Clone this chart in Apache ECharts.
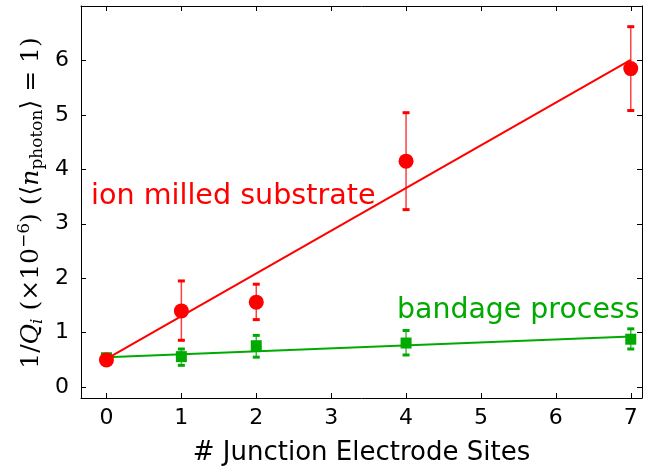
<!DOCTYPE html>
<html>
<head>
<meta charset="utf-8">
<script src="https://cdn.jsdelivr.net/npm/echarts@6/dist/echarts.min.js"></script>
<style>html,body{margin:0;padding:0;background:#fff}#c{width:645px;height:471px}</style>
</head>
<body>
<div id="c"></div>
<script>
const xVals = [0, 1, 2, 4, 7];
const ionY  = [0.50, 1.40, 1.56, 4.15, 5.85];
const ionLo = [0.50, 0.86, 1.24, 3.26, 5.08];
const ionHi = [0.50, 1.95, 1.89, 5.04, 6.62];
const bandY  = [0.54, 0.56, 0.76, 0.81, 0.88];
const bandLo = [0.54, 0.40, 0.55, 0.59, 0.70];
const bandHi = [0.54, 0.70, 0.95, 1.04, 1.07];
const fitX = [0, 7];
const ionFit = [0.52, 6.01];
const bandFit = [0.55, 0.93];
const xTicks = [0, 1, 2, 3, 4, 5, 6, 7];
const yTicks = [0, 1, 2, 3, 4, 5, 6];

const RED = '#ff0000', GREEN = '#00aa00';
const chart = echarts.init(document.getElementById('c'), null, {renderer: 'canvas'});

function errSeries(lo, hi, color, z) {
  return {
    type: 'custom', z: z, silent: true,
    data: xVals.map((x, i) => [x, lo[i], hi[i]]),
    renderItem: function (params, api) {
      const x = api.value(0);
      const p1 = api.coord([x, api.value(1)]);
      const p2 = api.coord([x, api.value(2)]);
      if (Math.abs(p1[1] - p2[1]) < 0.5) return {type: 'group', children: []};
      const w = 3.5;
      return {type: 'group', children: [
        {type: 'line', shape: {x1: p1[0], y1: p1[1], x2: p2[0], y2: p2[1]}, style: {stroke: color, lineWidth: 1.5, opacity: 0.75}},
        {type: 'line', shape: {x1: p1[0] - w, y1: p1[1], x2: p1[0] + w, y2: p1[1]}, style: {stroke: color, lineWidth: 3}},
        {type: 'line', shape: {x1: p2[0] - w, y1: p2[1], x2: p2[0] + w, y2: p2[1]}, style: {stroke: color, lineWidth: 3}}
      ]};
    }
  };
}

const axisCommon = {
  axisLine: {show: true, onZero: false, lineStyle: {color: '#000', width: 1}},
  axisTick: {show: true, inside: true, length: 5, lineStyle: {color: '#000', width: 1}},
  splitLine: {show: false}
};

chart.setOption({
  animation: false,
  backgroundColor: '#fff',
  grid: {left: 81, right: 3, top: 6, bottom: 73, containLabel: false, outerBoundsMode: 'none'},
  xAxis: [
    Object.assign({}, axisCommon, {
      type: 'value', min: -0.34, max: 7.15, position: 'bottom',
      axisTick: Object.assign({}, axisCommon.axisTick, {customValues: xTicks}),
      axisLabel: {customValues: xTicks, fontSize: 22, color: '#000', fontFamily: 'DejaVu Sans', margin: 9},
      name: '# Junction Electrode Sites', nameLocation: 'middle', nameGap: 42,
      nameTextStyle: {fontSize: 26, color: '#000', fontFamily: 'DejaVu Sans'}
    }),
    Object.assign({}, axisCommon, {
      type: 'value', min: -0.34, max: 7.15, position: 'top',
      axisTick: Object.assign({}, axisCommon.axisTick, {customValues: xTicks}),
      axisLabel: {show: false}
    })
  ],
  yAxis: [
    Object.assign({}, axisCommon, {
      type: 'value', min: -0.2, max: 7, position: 'left',
      axisTick: Object.assign({}, axisCommon.axisTick, {customValues: yTicks}),
      axisLabel: {customValues: yTicks, fontSize: 22, color: '#000', fontFamily: 'DejaVu Sans', margin: 12}
    }),
    Object.assign({}, axisCommon, {
      type: 'value', min: -0.2, max: 7, position: 'right',
      axisTick: Object.assign({}, axisCommon.axisTick, {customValues: yTicks}),
      axisLabel: {show: false}
    })
  ],
  graphic: [
    {type: 'text', left: 91, top: 182, z: 100, style: {text: 'ion milled substrate', fill: RED, font: '28.6px "DejaVu Sans"'}},
    {type: 'text', left: 397, top: 297, z: 100, style: {text: 'bandage process', fill: GREEN, font: '28.4px "DejaVu Sans"'}},
    {type: 'text', x: 31, y: 203, rotation: Math.PI / 2, z: 100,
     style: {
       text: '{r|1/}{i|Q}{si|i}{r| (×10}{sup|−6}{r|) (⟨}{i|n}{s|photon}{r|⟩ = 1)}',
       align: 'center', verticalAlign: 'middle',
       rich: {
         r: {fontSize: 25, fontFamily: 'DejaVu Serif', fill: '#000', height: 34},
         i: {fontSize: 25, fontFamily: 'DejaVu Serif', fontStyle: 'italic', fill: '#000', height: 34},
         si: {fontSize: 17, fontFamily: 'DejaVu Serif', fontStyle: 'italic', fill: '#000', height: 34, padding: [13, 0, 0, 0]},
         s: {fontSize: 17, fontFamily: 'DejaVu Serif', fill: '#000', height: 34, padding: [13, 0, 0, 0]},
         sup: {fontSize: 17, fontFamily: 'DejaVu Serif', fill: '#000', height: 34, padding: [0, 0, 13, 0]}
       }
     }}
  ],
  series: [
    {type: 'line', data: fitX.map((x, i) => [x, ionFit[i]]), showSymbol: false, symbol: 'none', z: 3,
     lineStyle: {color: RED, width: 2}, silent: true},
    {type: 'line', data: fitX.map((x, i) => [x, bandFit[i]]), showSymbol: false, symbol: 'none', z: 2,
     lineStyle: {color: GREEN, width: 2}, silent: true},
    errSeries(bandLo, bandHi, GREEN, 4),
    {type: 'scatter', data: xVals.map((x, i) => [x, bandY[i]]), symbol: 'rect', symbolSize: 11, z: 5,
     itemStyle: {color: GREEN, opacity: 1}},
    errSeries(ionLo, ionHi, RED, 6),
    {type: 'scatter', data: xVals.map((x, i) => [x, ionY[i]]), symbol: 'circle', symbolSize: 15, z: 7,
     itemStyle: {color: RED, opacity: 1}}
  ]
});
</script>
</body>
</html>
